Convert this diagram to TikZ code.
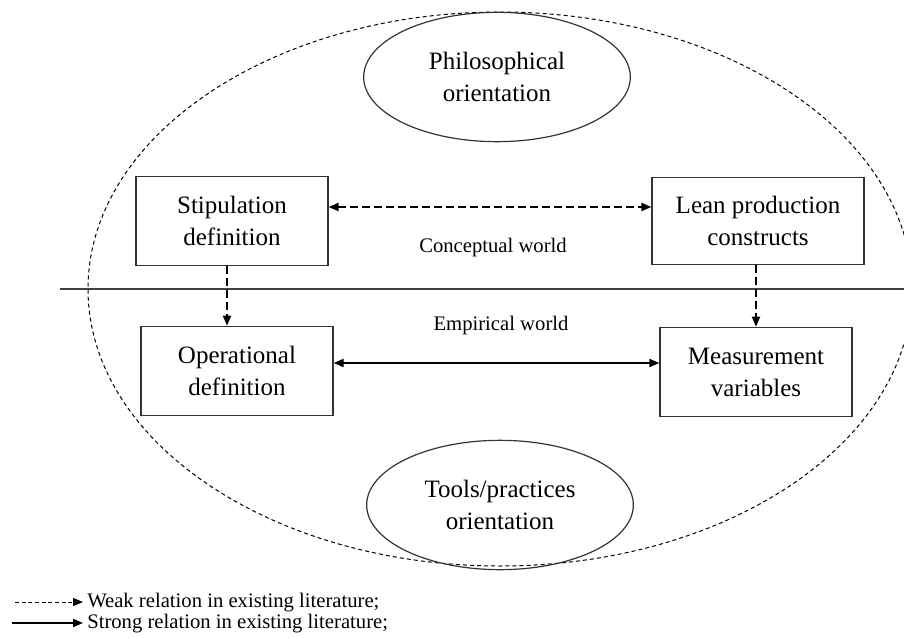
\documentclass[tikz,border=0pt]{standalone}
\usepackage{fontspec}
\setmainfont{Liberation Serif}
\usepackage{tikz}
\usetikzlibrary{arrows.meta,positioning,shapes.geometric}

\begin{document}
\begin{tikzpicture}[
  x=0.75pt, y=-0.75pt,
  >={Triangle[length=7.5pt,width=6pt]},
  box/.style={draw=black!80, line width=0.9pt, align=center, inner sep=2pt,
              minimum width=144pt, minimum height=67pt,
              font=\fontsize{18.75}{24}\selectfont},
  orient/.style={ellipse, draw=black!80, line width=0.9pt, align=center,
              inner sep=0pt, minimum width=200pt, minimum height=97pt,
              font=\fontsize{18.75}{24}\selectfont},
  world/.style={font=\fontsize{15.5}{19}\selectfont, inner sep=1pt},
  weakarr/.style={line width=1.4pt, dash pattern=on 6pt off 3pt},
  strongarr/.style={line width=1.4pt},
  boundary/.style={line width=0.75pt, dash pattern=on 3pt off 2.3pt},
  legtext/.style={font=\fontsize{15.5}{19}\selectfont, anchor=base west, inner sep=0pt}
]
    \useasboundingbox (0,0) rectangle (904,639);

    % Outer boundary and the line between the two worlds
    \draw[boundary] (500,289) ellipse [x radius=412, y radius=277];
    \draw[line width=0.9pt, black!75] (60,289) -- (904,289);

    % Orientations
    \node[orient] (phil)  at (497,77)  {Philosophical\\orientation};
    \node[orient] (tools) at (500,505) {Tools/practices\\orientation};

    % Conceptual world
    \node[box] (stip) at (232,221) {Stipulation\\definition};
    \node[box, minimum width=159pt, minimum height=65pt] (lean) at (758,221) {Lean production\\constructs};
    \node[world] (cw) at (493,248) {Conceptual world};

    % Empirical world
    \node[box] (oper) at (237,371) {Operational\\definition};
    \node[box] (meas) at (756,372) {Measurement\\variables};
    \node[world] (ew) at (501,326) {Empirical world};

    % Relations
    \draw[weakarr, <->] ([yshift=10.5pt]stip.east) -- ([yshift=10.5pt]lean.west);
    \draw[strongarr, <->] ([yshift=6pt]oper.east) -- ([yshift=6pt]oper.east -| meas.west);
    \draw[weakarr, ->] ([xshift=-3.75pt]stip.south) -- ([xshift=-3.75pt]stip.south |- oper.north);
    \draw[weakarr, ->] ([xshift=-1.5pt]lean.south) -- ([xshift=-1.5pt]lean.south |- meas.north);

    % Legend
    \coordinate (wk1) at (15,602);
    \coordinate (wk2) at (83,602);
    \coordinate (st1) at (12,623);
    \coordinate (st2) at (83,623);
    \draw[line width=0.75pt, dash pattern=on 3pt off 2pt, -{Triangle[length=7.5pt,width=6pt]}] (wk1) -- (wk2);
    \draw[strongarr, ->] (st1) -- (st2);
    \node[legtext] (wklab) at (87,607) {Weak relation in existing literature;};
    \node[legtext] (stlab) at (87,628) {Strong relation in existing literature;};
\end{tikzpicture}
\end{document}
